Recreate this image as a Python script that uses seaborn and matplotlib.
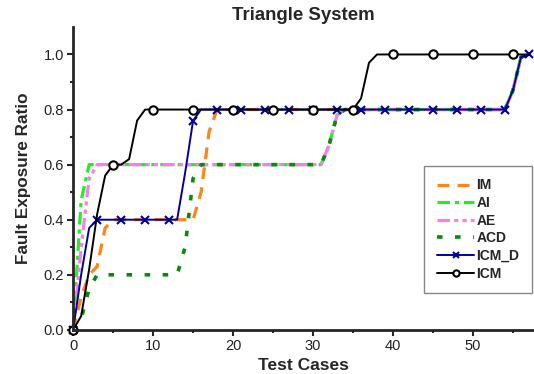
import numpy as np
import pandas as pd
import matplotlib
matplotlib.use('Agg')
import matplotlib.pyplot as plt
import seaborn as sns

# test case index 0..57
test_cases = list(range(58))

im = [0.0, 0.12, 0.2, 0.23, 0.37,
      0.4, 0.4, 0.4, 0.4, 0.4, 0.4, 0.4, 0.4, 0.4, 0.4, 0.4,
      0.5, 0.72,
      0.8, 0.8, 0.8, 0.8, 0.8, 0.8, 0.8, 0.8, 0.8, 0.8, 0.8, 0.8, 0.8, 0.8, 0.8, 0.8, 0.8, 0.8, 0.8,
      0.8, 0.8, 0.8, 0.8, 0.8, 0.8, 0.8, 0.8, 0.8, 0.8, 0.8, 0.8, 0.8, 0.8, 0.8, 0.8, 0.8, 0.8,
      0.87, 0.99, 1.0]
ai = [0.0, 0.47, 0.6,
      0.6, 0.6, 0.6, 0.6, 0.6, 0.6, 0.6, 0.6, 0.6, 0.6, 0.6, 0.6, 0.6, 0.6, 0.6,
      0.6, 0.6, 0.6, 0.6, 0.6, 0.6, 0.6, 0.6, 0.6, 0.6, 0.6, 0.6, 0.6, 0.6,
      0.67, 0.78,
      0.8, 0.8, 0.8, 0.8, 0.8, 0.8, 0.8, 0.8, 0.8, 0.8, 0.8,
      0.8, 0.8, 0.8, 0.8, 0.8, 0.8, 0.8, 0.8, 0.8, 0.8,
      0.87, 0.99, 1.0]
ae = [0.0, 0.3, 0.55, 0.6,
      0.6, 0.6, 0.6, 0.6, 0.6, 0.6, 0.6, 0.6, 0.6, 0.6, 0.6, 0.6, 0.6, 0.6,
      0.6, 0.6, 0.6, 0.6, 0.6, 0.6, 0.6, 0.6, 0.6, 0.6, 0.6, 0.6, 0.6, 0.6,
      0.67, 0.78,
      0.8, 0.8, 0.8, 0.8, 0.8, 0.8, 0.8, 0.8, 0.8, 0.8, 0.8,
      0.8, 0.8, 0.8, 0.8, 0.8, 0.8, 0.8, 0.8, 0.8, 0.8,
      0.87, 0.99, 1.0]
acd = [0.0, 0.04, 0.15, 0.2,
       0.2, 0.2, 0.2, 0.2, 0.2, 0.2, 0.2, 0.2, 0.2, 0.2,
       0.3, 0.55, 0.6,
       0.6, 0.6, 0.6, 0.6, 0.6, 0.6, 0.6, 0.6, 0.6, 0.6, 0.6, 0.6, 0.6, 0.6, 0.6,
       0.67, 0.78,
       0.8, 0.8, 0.8, 0.8, 0.8, 0.8, 0.8, 0.8, 0.8, 0.8, 0.8,
       0.8, 0.8, 0.8, 0.8, 0.8, 0.8, 0.8, 0.8, 0.8, 0.8,
       0.87, 0.99, 1.0]
icm_d = [0.0, 0.2, 0.37,
         0.4, 0.4, 0.4, 0.4, 0.4, 0.4, 0.4, 0.4, 0.4, 0.4, 0.4,
         0.57, 0.76,
         0.8, 0.8, 0.8, 0.8, 0.8, 0.8, 0.8, 0.8, 0.8, 0.8, 0.8, 0.8, 0.8,
         0.8, 0.8, 0.8, 0.8, 0.8, 0.8, 0.8, 0.8, 0.8, 0.8, 0.8, 0.8, 0.8,
         0.8, 0.8, 0.8, 0.8, 0.8, 0.8, 0.8, 0.8, 0.8, 0.8, 0.8, 0.8, 0.8,
         0.87, 0.99, 1.0]
icm = [0.0, 0.05, 0.22, 0.42, 0.56, 0.6, 0.6, 0.62, 0.76,
       0.8, 0.8, 0.8, 0.8, 0.8, 0.8, 0.8, 0.8, 0.8, 0.8, 0.8, 0.8, 0.8, 0.8,
       0.8, 0.8, 0.8, 0.8, 0.8, 0.8, 0.8, 0.8, 0.8, 0.8, 0.8, 0.8, 0.8,
       0.84, 0.97,
       1.0, 1.0, 1.0, 1.0, 1.0, 1.0, 1.0, 1.0, 1.0, 1.0,
       1.0, 1.0, 1.0, 1.0, 1.0, 1.0, 1.0, 1.0, 1.0, 1.0]

labels = ['IM', 'AI', 'AE', 'ACD', 'ICM_D', 'ICM']
series = [im, ai, ae, acd, icm_d, icm]

sns.set_style('ticks')
plt.rcParams['font.family'] = ['Liberation Sans', 'DejaVu Sans']
plt.rcParams['lines.scale_dashes'] = False

styles = {
    'IM':    dict(color='#FF8419', lw=2.3, ls=(0, (8.5, 6))),
    'AI':    dict(color='#22EE22', lw=2.3, ls=(0, (9, 3.5, 3, 3.5))),
    'AE':    dict(color='#F57FEF', lw=2.3, ls=(0, (9, 3, 3, 3, 3, 3))),
    'ACD':   dict(color='#0A8A0A', lw=2.6, ls=(0, (4, 9))),
    'ICM_D': dict(color='#0000A0', lw=1.4, ls='-', marker='x', ms=5.5, mew=1.5, markevery=3),
    'ICM':   dict(color='black', lw=1.4, ls='-', marker='o', ms=6, mew=1.5,
                  mfc='white', mec='black', markevery=5),
}

fig = plt.figure(figsize=(5.34, 3.74), dpi=100)
ax = fig.add_axes([0.137, 0.118, 0.861, 0.81])

df = pd.DataFrame(dict(zip(labels, series)), index=test_cases)
df.index.name = 'case'

for name in labels:
    st = styles[name]
    kw = dict(color=st['color'], linewidth=st['lw'], linestyle=st['ls'], label=name)
    if 'marker' in st:
        kw.update(marker=st['marker'], markersize=st['ms'], markeredgewidth=st['mew'],
                  markevery=st['markevery'])
        if 'mfc' in st:
            kw.update(markerfacecolor=st['mfc'], markeredgecolor=st['mec'])
        else:
            kw.update(markeredgecolor=st['color'])
    sns.lineplot(x=df.index, y=df[name], ax=ax, clip_on=False, **kw)

ax.set_xlim(0, 57.5)
ax.set_ylim(0, 1.1)
ax.set_xticks([0, 10, 20, 30, 40, 50])
ax.set_xticks([5, 15, 25, 35, 45, 55], minor=True)
ax.set_yticks([0.0, 0.2, 0.4, 0.6, 0.8, 1.0])
ax.set_yticks([0.1, 0.3, 0.5, 0.7, 0.9], minor=True)
ax.set_yticklabels(['0.0', '0.2', '0.4', '0.6', '0.8', '1.0'])
ax.tick_params(which='major', direction='out', length=4.5, width=1.5, labelsize=10.5,
               labelcolor='#222222', pad=2)
ax.tick_params(which='minor', direction='out', length=2.5, width=1.5)
sns.despine(ax=ax)
for sp in ['left', 'bottom']:
    ax.spines[sp].set_linewidth(2)

ax.set_title('Triangle System', fontsize=13.4, fontweight='bold', pad=5)
ax.set_xlabel('Test Cases', fontsize=12.5, fontweight='bold', labelpad=4)
ax.set_ylabel('Fault Exposure Ratio', fontsize=12.3, fontweight='bold', labelpad=9)

leg = ax.legend(loc='upper right', bbox_to_anchor=(0.998, 0.541), fancybox=False,
                edgecolor='#888888', framealpha=1, handlelength=2.7, handletextpad=0.15,
                labelspacing=0.26, borderpad=0.9, borderaxespad=0, markerscale=0.75,
                prop=dict(weight='bold', size=10))
leg.get_frame().set_linewidth(1)

fig.savefig('out.png', dpi=100)
